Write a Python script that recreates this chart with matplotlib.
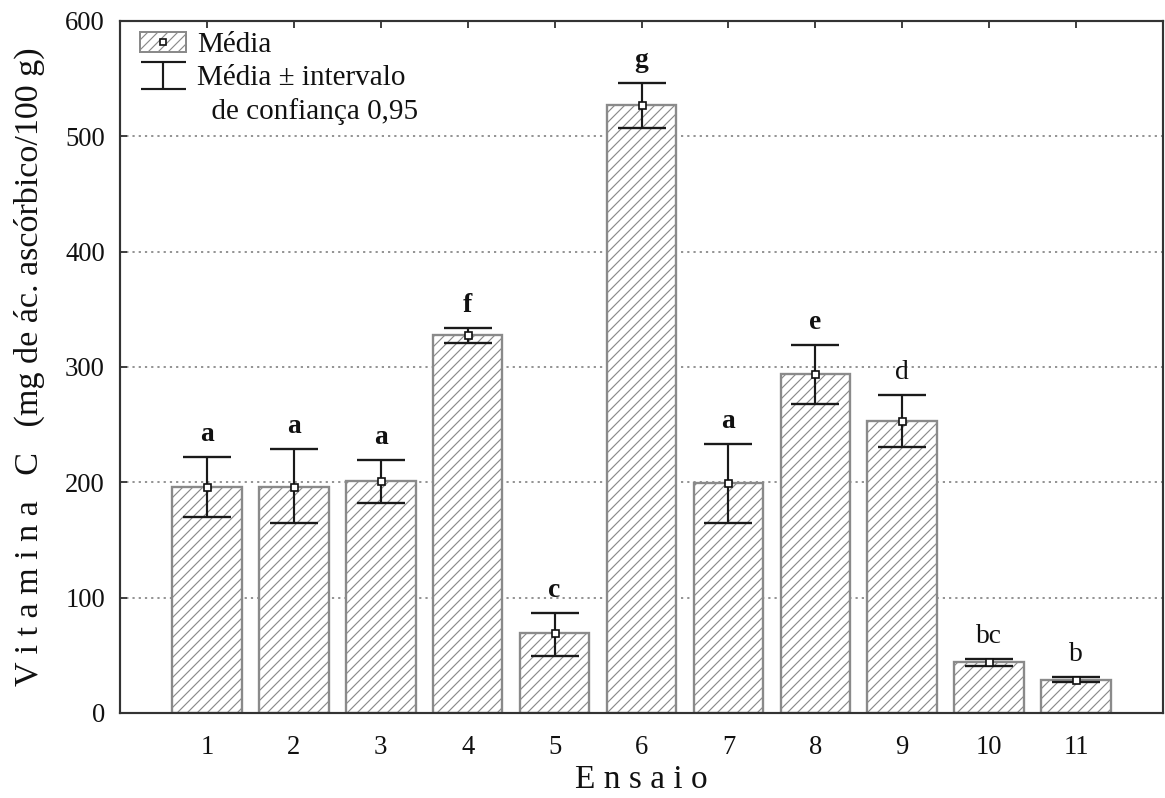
import matplotlib
matplotlib.use("Agg")
import matplotlib.pyplot as plt
from matplotlib.patches import Patch
from matplotlib.lines import Line2D
from matplotlib.path import Path
from matplotlib.legend_handler import HandlerTuple
import numpy as np

# ---- data ----
ensaios = ["1", "2", "3", "4", "5", "6", "7", "8", "9", "10", "11"]
means = [196, 196, 201, 328, 69, 527, 199, 294, 253, 44, 29]
ci_upper = [222, 229, 219, 334, 87, 546, 233, 319, 276, 47, 31]
ci_lower = [170, 165, 182, 321, 49, 507, 165, 268, 231, 41, 27]
letters = ["a", "a", "a", "f", "c", "g", "a", "e", "d", "bc", "b"]
letter_bold = [True, True, True, True, True, True, True, True, False, False, False]
yticks = [0, 100, 200, 300, 400, 500, 600]

plt.rcParams['font.family'] = ['Liberation Serif', 'DejaVu Serif']
plt.rcParams['hatch.linewidth'] = 0.7

DPI = 120
fig = plt.figure(figsize=(1165 / DPI, 798 / DPI), dpi=DPI)
ax = fig.add_axes([120 / 1165, 1 - 713 / 798, (1163 - 120) / 1165, (713 - 21) / 798])

x = np.arange(1, len(ensaios) + 1)
means_a = np.array(means)
up = np.array(ci_upper) - means_a
lo = means_a - np.array(ci_lower)

bar_edge = "#8a8a8a"
ax.bar(x, means, width=0.8, facecolor="white", edgecolor=bar_edge,
       linewidth=1.4, hatch="////", zorder=2)

ax.errorbar(x, means, yerr=[lo, up], fmt="none", ecolor="#1a1a1a",
            elinewidth=1.3, capsize=14.5, capthick=1.4, zorder=3)
ax.plot(x, means, linestyle="none", marker="s", markersize=4.2,
        markerfacecolor="white", markeredgecolor="#111111",
        markeredgewidth=1.0, zorder=4)

for xi, yu, lab, b in zip(x, ci_upper, letters, letter_bold):
    ax.text(xi, yu + 14, lab, ha="center", va="baseline", fontsize=16.5,
            fontweight="bold" if b else "normal", color="#111111", zorder=5)

ax.set_xlim(0, 12)
ax.set_ylim(0, 600)
ax.set_xticks(x)
ax.set_xticklabels(ensaios)
ax.set_yticks(yticks)
ax.set_yticklabels([str(v) for v in yticks])

ax.yaxis.grid(True, linestyle=(0, (1.2, 2.2)), color="#8c8c8c", linewidth=1.1)
ax.set_axisbelow(True)

for s in ax.spines.values():
    s.set_color("#333333")
    s.set_linewidth(1.3)

ax.tick_params(axis="both", direction="in", labelsize=16, colors="#333333",
               labelcolor="#111111", length=4, width=1.1)
ax.tick_params(axis="x", top=True, pad=13)
ax.tick_params(axis="y", pad=9)

ax.set_xlabel("E n s a i o", fontsize=20, labelpad=3, color="#111111")
ax.set_ylabel("V i t a m i n a   C   (mg de ác. ascórbico/100 g)", fontsize=20.5,
              labelpad=12, color="#111111")

# ---- legend ----
ibeam = Path([(-1, 0.6), (1, 0.6), (0, 0.6), (0, -0.6), (-1, -0.6), (1, -0.6)],
             [Path.MOVETO, Path.LINETO, Path.MOVETO, Path.LINETO, Path.MOVETO, Path.LINETO])
h_patch = Patch(facecolor="white", edgecolor=bar_edge, hatch="////", linewidth=1.2)
h_mark = Line2D([], [], linestyle="none", marker="s", markersize=3.5,
                markerfacecolor="white", markeredgecolor="#111111", markeredgewidth=1.0)
h_err = Line2D([], [], linestyle="none", marker=ibeam, markersize=27,
               markerfacecolor="none", markeredgecolor="#1a1a1a", markeredgewidth=1.3)
h_blank = Line2D([], [], linestyle="none", alpha=0)

leg = ax.legend([(h_patch, h_mark), h_err, h_blank],
                ["Média", "Média ± intervalo", "  de confiança 0,95"],
                handler_map={tuple: HandlerTuple(ndivide=1, pad=0)},
                loc="upper left", bbox_to_anchor=(0.007, 1.003), frameon=False,
                fontsize=17.5, handlelength=1.55, handleheight=0.7,
                handletextpad=0.4, labelspacing=0.22, borderaxespad=0.15,
                borderpad=0.3)
for t in leg.get_texts():
    t.set_color("#111111")

fig.savefig("out.png", dpi=DPI)
